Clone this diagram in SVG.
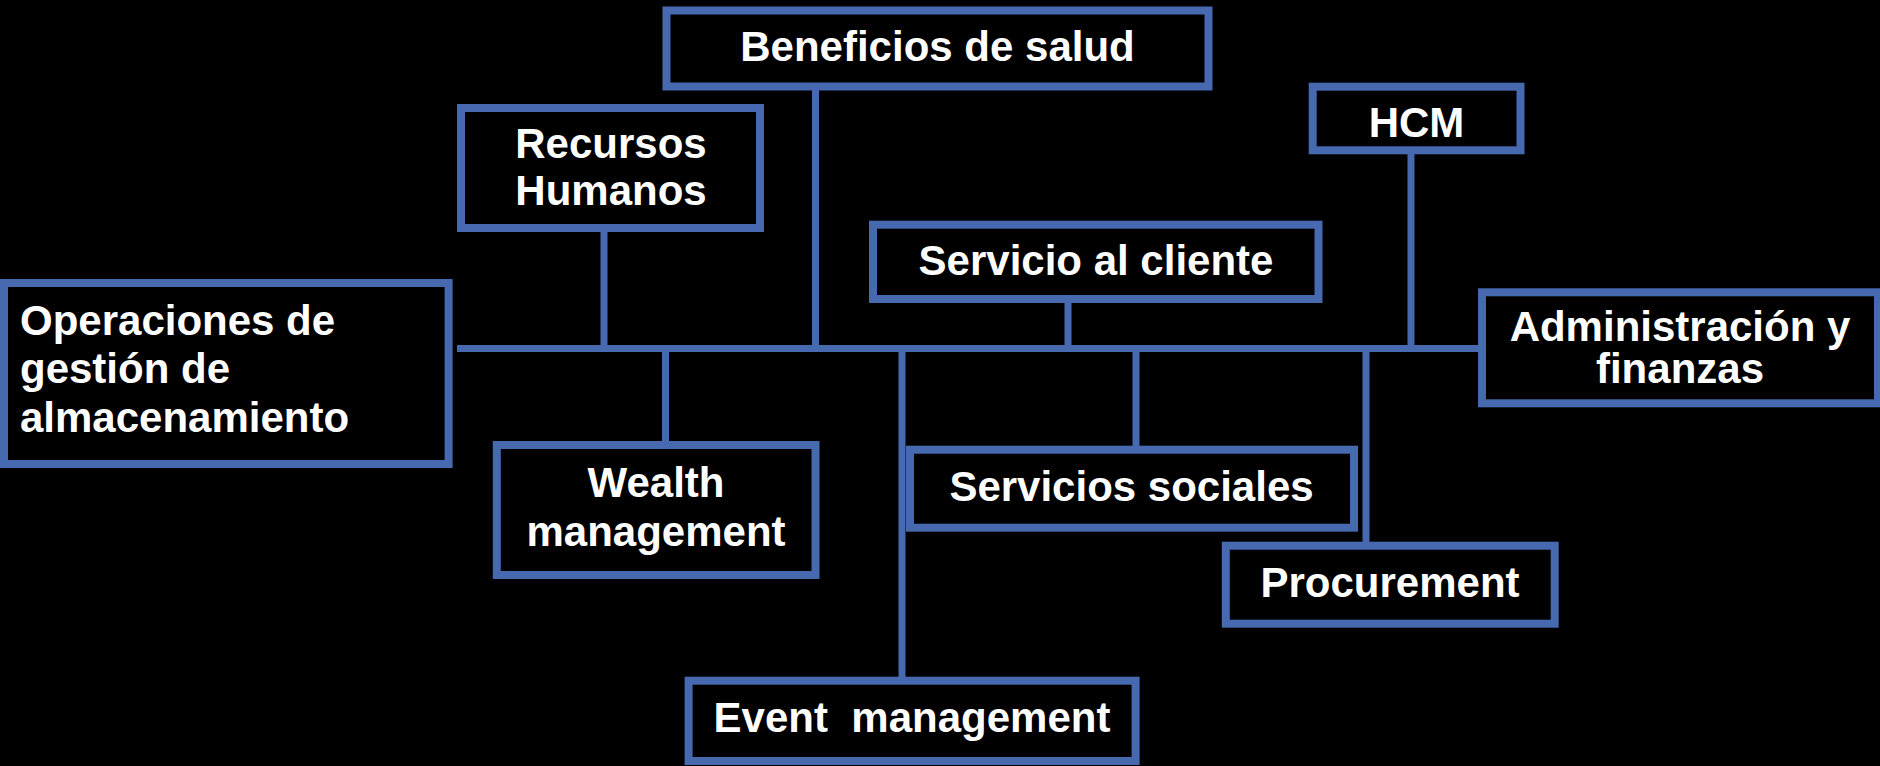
<svg xmlns="http://www.w3.org/2000/svg" width="1880" height="766" viewBox="0 0 1880 766">
<style>
.box{fill:#000;stroke:#4769B0;stroke-width:8}
.ln{stroke:#4769B0;stroke-width:7;fill:none}
.t{font-family:"Liberation Sans",Arial,sans-serif;font-weight:bold;font-size:42px;fill:#fff}
.c{text-anchor:middle}
</style>
<rect x="0" y="0" width="1880" height="766" fill="#000"/>
<g id="connectors">
<line class="ln" x1="457" y1="348.5" x2="1480" y2="348.5"/>
<line class="ln" x1="815.5" y1="90" x2="815.5" y2="348"/>
<line class="ln" x1="604" y1="232" x2="604" y2="348"/>
<line class="ln" x1="1068" y1="303" x2="1068" y2="348"/>
<line class="ln" x1="1411" y1="154" x2="1411" y2="348"/>
<line class="ln" x1="665.5" y1="349" x2="665.5" y2="442"/>
<line class="ln" x1="902" y1="349" x2="902" y2="678"/>
<line class="ln" x1="1136" y1="349" x2="1136" y2="447"/>
<line class="ln" x1="1366" y1="349" x2="1366" y2="543"/>
</g>
<g id="beneficios">
<rect class="box" x="666.5" y="10.5" width="542" height="76"/>
<text class="t c" x="937.5" y="61">Beneficios de salud</text>
</g>
<g id="recursos">
<rect class="box" x="461" y="108" width="299" height="120"/>
<text class="t c" x="611" y="158">Recursos</text>
<text class="t c" x="611" y="205">Humanos</text>
</g>
<g id="operaciones">
<rect class="box" x="4" y="283" width="444.6" height="181"/>
<text class="t" x="20" y="335">Operaciones de</text>
<text class="t" x="20" y="383">gestión de</text>
<text class="t" x="20" y="432">almacenamiento</text>
</g>
<g id="servicio-cliente">
<rect class="box" x="873" y="224.7" width="445.5" height="74.3"/>
<text class="t c" x="1096" y="275">Servicio al cliente</text>
</g>
<g id="hcm">
<rect class="box" x="1312.7" y="86.7" width="207.8" height="63.6"/>
<text class="t c" x="1416.5" y="136.5">HCM</text>
</g>
<g id="administracion">
<rect class="box" x="1482" y="292.3" width="396" height="111"/>
<text class="t c" x="1680" y="340.5">Administración y</text>
<text class="t c" x="1680" y="383">finanzas</text>
</g>
<g id="wealth">
<rect class="box" x="496.8" y="445" width="318.7" height="130"/>
<text class="t c" x="656" y="497">Wealth</text>
<text class="t c" x="656" y="545.5">management</text>
</g>
<g id="servicios-sociales">
<rect class="box" x="910" y="449.7" width="444" height="78"/>
<text class="t c" x="1131.5" y="500.5">Servicios sociales</text>
</g>
<g id="procurement">
<rect class="box" x="1225.8" y="545.7" width="328.9" height="78"/>
<text class="t c" x="1390" y="597">Procurement</text>
</g>
<g id="event">
<rect class="box" x="688.6" y="680.7" width="447" height="80.3"/>
<text class="t c" x="912" y="731.5" xml:space="preserve">Event  management</text>
</g>
</svg>
